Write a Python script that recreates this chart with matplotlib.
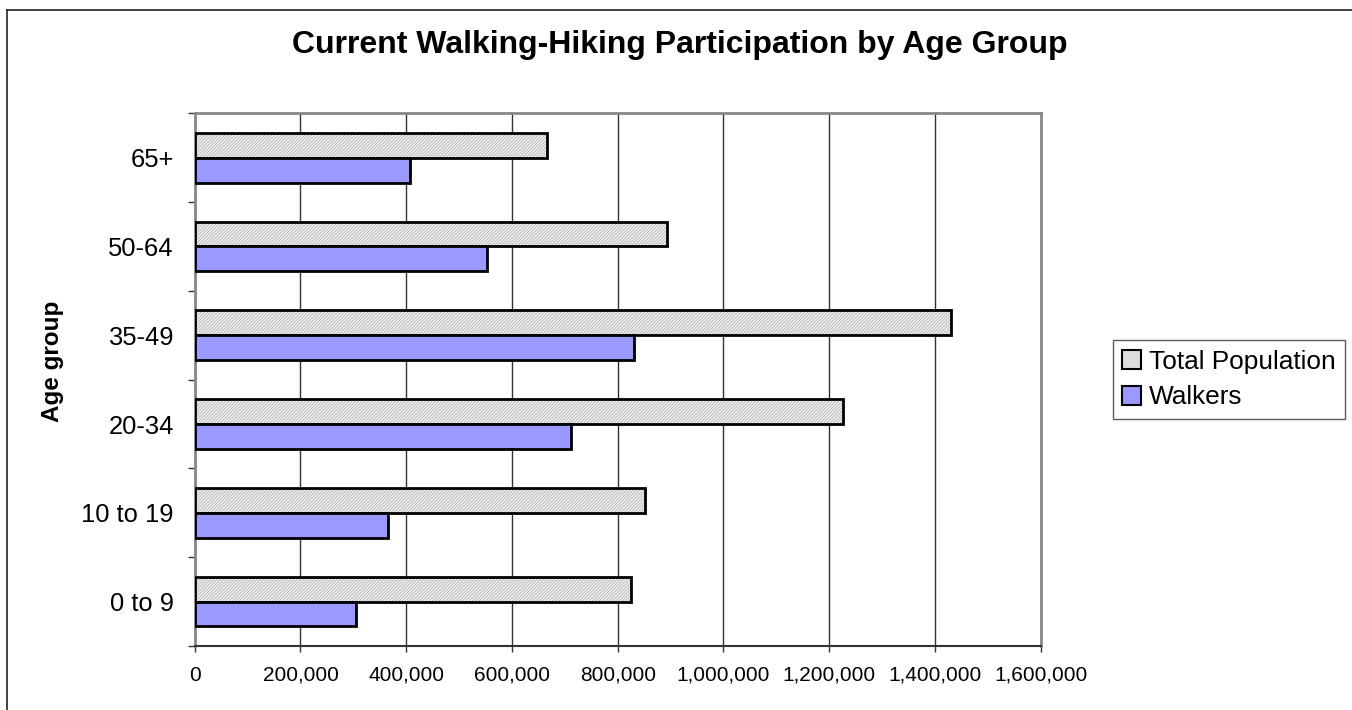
import matplotlib
matplotlib.use("Agg")
import matplotlib.pyplot as plt
import numpy as np
from matplotlib.lines import Line2D
from matplotlib.patches import Patch
from matplotlib.ticker import FuncFormatter, MultipleLocator

plt.rcParams["font.family"] = ["Liberation Sans", "DejaVu Sans"]
plt.rcParams["hatch.linewidth"] = 0.6

age_groups = ["0 to 9", "10 to 19", "20-34", "35-49", "50-64", "65+"]
total_population = [825000, 852000, 1226000, 1431000, 893000, 667000]
walkers = [305000, 365000, 711000, 830000, 553000, 407000]

fig = plt.figure(figsize=(13.52, 7.10), dpi=100)
ax = fig.add_axes([0.144, 0.0901, 0.6258, 0.7503])

y = np.arange(len(age_groups))
h = 0.28

# total population: hatched fill, then black outline on top
ax.barh(y + h / 2, total_population, height=h, color="#f0f0f0",
        edgecolor="#b4b4b4", hatch="//////////", linewidth=0, zorder=3)
ax.barh(y + h / 2, total_population, height=h, fill=False,
        edgecolor="black", linewidth=2.0, zorder=4)
ax.barh(y - h / 2, walkers, height=h, color="#9999ff",
        edgecolor="black", linewidth=2.0, zorder=4)

ax.set_xlim(0, 1600000)
ax.set_ylim(-0.5, len(age_groups) - 0.5)
ax.xaxis.set_major_locator(MultipleLocator(200000))
ax.xaxis.set_major_formatter(FuncFormatter(lambda v, p: f"{int(v):,}"))
ax.grid(True, axis="x", color="#333333", linewidth=1.0, zorder=1)

ax.set_yticks(y)
ax.set_yticklabels(age_groups, fontsize=18.4)
ax.set_yticks(np.arange(-0.5, len(age_groups)), minor=True)
ax.tick_params(axis="y", which="major", length=0, pad=15)
ax.tick_params(axis="y", which="minor", length=5, width=1, color="#333333")
ax.tick_params(axis="x", labelsize=15, length=4.3, width=1, color="#333333", pad=10)

for side in ["top", "right", "left"]:
    ax.spines[side].set_color("#888888")
    ax.spines[side].set_linewidth(2)
ax.spines["bottom"].set_color("#333333")
ax.spines["bottom"].set_linewidth(1.5)

fig.text(0.039, 1 - 361 / 710, "Age group", rotation=90, ha="center", va="center",
         fontsize=17.5, fontweight="bold")
fig.text(0.503, 1 - 45 / 710, "Current Walking-Hiking Participation by Age Group",
         ha="center", va="center", fontsize=23, fontweight="bold")

handles = [Patch(facecolor="#dddddd", edgecolor="black", linewidth=1.5),
           Patch(facecolor="#9999ff", edgecolor="black", linewidth=1.5)]
leg = fig.legend(handles, ["Total Population", "Walkers"], loc="center left",
                 bbox_to_anchor=(1113 / 1352, 1 - 379.5 / 710), fontsize=18.9,
                 fancybox=False, frameon=True, handlelength=0.72, handleheight=0.72,
                 handletextpad=0.3, borderpad=0.35, labelspacing=0.45,
                 borderaxespad=0)
leg.get_frame().set_edgecolor("#333333")
leg.get_frame().set_linewidth(1.0)

# chart area border (top and left edges visible)
fig.add_artist(Line2D([7 / 1352, 1.0], [1 - 10 / 710, 1 - 10 / 710],
                      transform=fig.transFigure, color="#222222", linewidth=1.2))
fig.add_artist(Line2D([7 / 1352, 7 / 1352], [0.0, 1 - 10 / 710],
                      transform=fig.transFigure, color="#222222", linewidth=1.2))

fig.savefig("out.png", dpi=100)
